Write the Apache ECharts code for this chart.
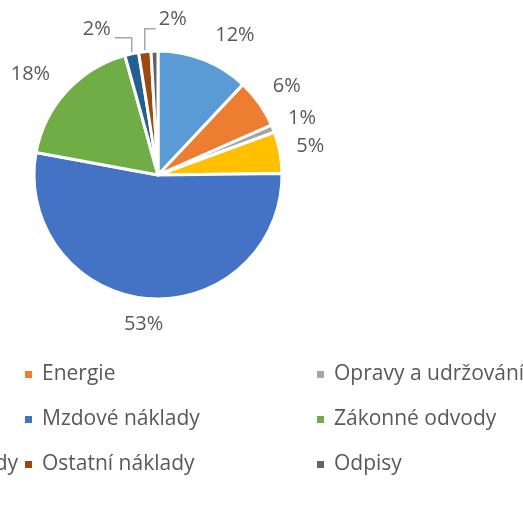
<!DOCTYPE html>
<html lang="cs">
<head>
    <meta charset="UTF-8">
    <title>Struktura nákladů</title>
    <script src="https://cdn.jsdelivr.net/npm/echarts@6/dist/echarts.min.js"></script>
    <style>
        html, body { margin: 0; padding: 0; background: #fff; }
        #main { width: 523px; height: 519px; }
    </style>
</head>
<body>

<div id="main"></div>

<script type="text/javascript">
    // data
    var categories = ['Materiál', 'Energie', 'Opravy a udržování', 'Služby', 'Mzdové náklady',
        'Zákonné odvody', 'Ostatní sociální náklady', 'Ostatní náklady', 'Odpisy'];
    var shares = [12.0, 6.4, 1.0, 5.4, 53.1, 17.8, 1.8, 1.6, 0.9];
    var colors = ['#5B9BD5', '#ED7D31', '#A5A5A5', '#FFC000', '#4472C4',
        '#70AD47', '#255E91', '#9E480E', '#636363'];

    // legend is 3 columns (first one is cut off by the picture edge)
    var legendColumns = [[0, 3, 6], [1, 4, 7], [2, 5, 8]];
    var legendLeft = [-232, 23, 315];

    // outside label distances per slice (Excel puts them a bit differently)
    var labelLen = [26, 30, 28, 36, 26, 25, 6, 6, 0];
    var labelLen2 = [2, -11, -11, -19, -18, -2, 6, 6, 0];
    // small slices get a leader line: straight up, then sideways
    var leaderRise = [0, 0, 0, 0, 0, 0, 16, 23, 0];
    var leaderRun = [0, 0, 0, 0, 0, 0, -17, 11, 0];

    var textColor = '#595959';
    var font = 'Open Sans';

    var myChart = echarts.init(document.getElementById('main'), null, {renderer: 'canvas'});

    var pieData = categories.map(function (name, i) {
        return {
            name: name,
            value: shares[i],
            label: {show: i !== 8},
            labelLine: {
                show: leaderRun[i] !== 0,
                length: labelLen[i],
                length2: labelLen2[i]
            }
        };
    });

    var option = {
        backgroundColor: '#fff',
        animation: false,
        color: colors,
        legend: legendColumns.map(function (col, c) {
            return {
                orient: 'vertical',
                left: legendLeft[c],
                top: 364,
                padding: 0,
                icon: 'rect',
                itemWidth: 9,
                itemHeight: 9,
                itemGap: 24,
                selectedMode: false,
                data: col.map(function (i) { return categories[i]; }),
                textStyle: {
                    color: textColor,
                    fontFamily: font,
                    fontSize: 21,
                    lineHeight: 21,
                    padding: [0, 0, 0, 4]
                }
            };
        }),
        series: [
            {
                type: 'pie',
                center: [158, 175],
                radius: 124,
                startAngle: 90,
                clockwise: true,
                avoidLabelOverlap: false,
                emphasis: {disabled: true},
                itemStyle: {borderColor: '#fff', borderWidth: 3},
                label: {
                    position: 'outside',
                    distanceToLabelLine: 0,
                    color: textColor,
                    fontFamily: font,
                    fontSize: 20,
                    formatter: function (p) {
                        return Math.round(p.percent) + '%';
                    }
                },
                labelLine: {
                    lineStyle: {color: '#A6A6A6', width: 1.5}
                },
                labelLayout: function (p) {
                    var run = leaderRun[p.dataIndex];
                    if (!run || !p.labelLinePoints) {
                        return {};
                    }
                    var start = p.labelLinePoints[0];
                    var bend = [start[0], start[1] - leaderRise[p.dataIndex]];
                    var end = [bend[0] + run, bend[1]];
                    return {
                        x: end[0] + (run < 0 ? -4 : 3),
                        y: bend[1] - 9,
                        align: run < 0 ? 'right' : 'left',
                        labelLinePoints: [start, bend, end]
                    };
                },
                data: pieData
            }
        ]
    };

    myChart.setOption(option);
</script>

</body>
</html>
